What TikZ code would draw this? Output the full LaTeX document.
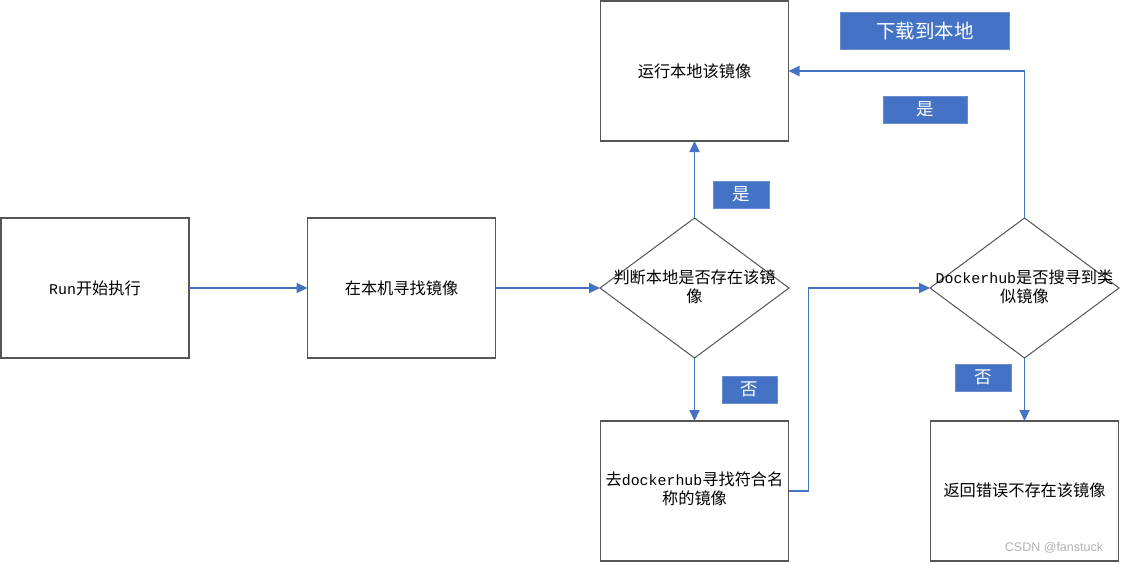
\documentclass[tikz,border=0pt]{standalone}
\usepackage{fontspec}
\setmainfont{Noto Sans CJK SC}
\newfontfamily\lat[Scale=0.92]{Liberation Mono}
\newfontfamily\wm{Liberation Sans}
\usetikzlibrary{shapes.geometric,arrows.meta}
\definecolor{boxgray}{HTML}{555555}
\definecolor{conblue}{HTML}{4472C4}
\definecolor{labblue}{HTML}{4472C4}
\tikzset{
  box/.style={draw=boxgray, line width=1.2pt, minimum width=188pt, minimum height=140pt, inner sep=0pt, outer sep=0pt},
  dia/.style={draw=boxgray, line width=1pt, diamond, minimum width=189pt, minimum height=140pt, inner sep=0pt, outer sep=0pt},
  txt/.style={align=center, font=\fontsize{16.2}{19}\selectfont, inner sep=0pt},
  conn/.style={draw=conblue, line width=1.9pt, -{Triangle[length=11pt,width=10pt]}},
  lab/.style={fill=labblue, draw=labblue!80!white, line width=0.6pt, text=white, inner sep=0pt, outer sep=0pt, font=\fontsize{17.5}{20}\selectfont},
}
\begin{document}
\begin{tikzpicture}[x=1pt,y=-1pt]
\useasboundingbox (0,0) rectangle (1121,563);
\fill[white] (0,0) rectangle (1121,563);
% boxes
\node[box] (run) at (95,288) {};
\node[txt] (runt) at (95,288) {{\lat Run}开始执行};
\node[box] (local) at (401.5,288) {};
\node[txt] (localt) at (401.5,288) {在本机寻找镜像};
\node[dia] (d1) at (694.5,288) {};
\node[txt] (d1t) at (694.5,287) {判断本地是否存在该镜\\像};
\node[box] (runloc) at (694.5,71) {};
\node[txt] (runloct) at (694.5,71) {运行本地该镜像};
\node[box] (dh) at (694.5,491) {};
\node[txt] (dht) at (694.5,489) {去{\lat dockerhub}寻找符合名\\称的镜像};
\node[dia] (d2) at (1024.5,288) {};
\node[txt] (d2t) at (1024.5,287) {{\lat Dockerhub}是否搜寻到类\\似镜像};
\node[box] (err) at (1024.5,491) {};
\node[txt] (errt) at (1024.5,490) {返回错误不存在该镜像};
% connectors
\draw[conn] (run) -- (local);
\draw[conn] (local) -- (d1);
\draw[conn] (d1) -- (runloc);
\draw[conn] (d1) -- (dh);
\draw[conn] (dh.east) -- ++(20,0) |- (d2.west);
\draw[conn] (d2.north) |- (runloc.east);
\draw[conn] (d2) -- (err);
% labels
\node[lab, minimum width=169pt, minimum height=37pt, font=\fontsize{19.5}{22}\selectfont] (l1) at (925,31) {下载到本地};
\node[lab, minimum width=84pt, minimum height=27pt] (l2) at (925,109.5) {是};
\node[lab, minimum width=56pt, minimum height=27pt] (l3) at (741,194.5) {是};
\node[lab, minimum width=55pt, minimum height=27pt] (l4) at (749.5,389.5) {否};
\node[lab, minimum width=56pt, minimum height=27pt] (l5) at (983,377.5) {否};
% watermark
\node[text=gray!60, font=\wm\fontsize{12.5}{14}\selectfont, inner sep=0pt] (wmk) at (1054,548) {CSDN @fanstuck};
\end{tikzpicture}
\end{document}
